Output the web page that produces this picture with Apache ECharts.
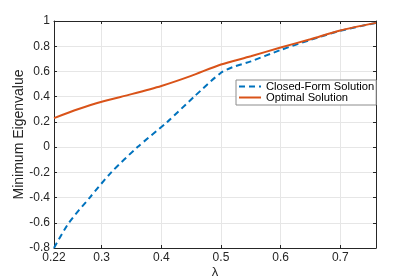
<!DOCTYPE html>
<html><head><meta charset="utf-8">
<script src="https://cdn.jsdelivr.net/npm/echarts@6/dist/echarts.min.js"></script>
<style>html,body{margin:0;padding:0;background:#fff}#c{width:415px;height:279px}</style>
</head><body><div id="c"></div>
<script>
const xTicks = [0.22, 0.3, 0.4, 0.5, 0.6, 0.7];
const closedX = [0.22, 0.245, 0.28, 0.316, 0.36, 0.41, 0.455, 0.50, 0.52, 0.55, 0.60, 0.65, 0.70, 0.76];
const closedY = [-0.8, -0.6, -0.4, -0.2, 0.0, 0.2, 0.4, 0.59, 0.635, 0.68, 0.77, 0.85, 0.922, 0.985];
const optX = [0.22, 0.26, 0.30, 0.35, 0.40, 0.45, 0.50, 0.55, 0.60, 0.65, 0.70, 0.76];
const optY = [0.23, 0.30, 0.36, 0.42, 0.485, 0.565, 0.655, 0.72, 0.79, 0.855, 0.925, 0.985];
const seriesNames = ['Closed-Form Solution', 'Optimal Solution'];

const font = 'Liberation Sans, Arial, Helvetica, sans-serif';
const axisColor = '#262626';
const chart = echarts.init(document.getElementById('c'), null, {renderer: 'canvas'});
const zip = (xs, ys) => xs.map((x, i) => [x, ys[i]]);
chart.setOption({
  animation: false,
  backgroundColor: '#fff',
  grid: {left: 54, right: 39, top: 21, bottom: 31, containLabel: false, outerBoundsMode: 'none'},
  legend: {
    orient: 'vertical', left: 236, top: 80,
    padding: [1, 2, 2, 2], itemGap: 0, itemWidth: 22, itemHeight: 8, itemTextGap: 1,
    itemStyle: {opacity: 0},
    backgroundColor: '#fff', borderColor: '#8c8c8c', borderWidth: 1,
    textStyle: {fontFamily: font, fontSize: 11.2, color: '#000', lineHeight: 11},
    data: seriesNames
  },
  xAxis: [{
    type: 'value', min: 0.22, max: 0.76, position: 'bottom',
    name: 'λ', nameLocation: 'middle', nameGap: 18, nameMoveOverlap: false,
    nameTextStyle: {fontFamily: font, fontSize: 13, color: axisColor},
    axisLine: {show: true, onZero: false, lineStyle: {color: axisColor, width: 1}},
    axisTick: {show: true, inside: true, length: 3, customValues: xTicks, lineStyle: {color: axisColor}},
    axisLabel: {customValues: xTicks, fontFamily: font, fontSize: 12, color: axisColor, margin: 4,
      formatter: v => String(Number(v.toFixed(2)))},
    splitLine: {show: true, lineStyle: {color: '#e6e6e6', width: 1}}
  }, {
    type: 'value', min: 0.22, max: 0.76, position: 'top',
    axisLine: {show: true, onZero: false, lineStyle: {color: axisColor, width: 1}},
    axisTick: {show: true, inside: true, length: 3, customValues: xTicks, lineStyle: {color: axisColor}},
    axisLabel: {show: false}, splitLine: {show: false}
  }],
  yAxis: [{
    type: 'value', min: -0.8, max: 1, interval: 0.2, position: 'left',
    name: 'Minimum Eigenvalue', nameLocation: 'middle', nameGap: 28, nameRotate: 90, nameMoveOverlap: false,
    nameTextStyle: {fontFamily: font, fontSize: 14, color: axisColor},
    axisLine: {show: true, onZero: false, lineStyle: {color: axisColor, width: 1}},
    axisTick: {show: true, inside: true, length: 3, lineStyle: {color: axisColor}},
    axisLabel: {fontFamily: font, fontSize: 12, color: axisColor, margin: 4,
      formatter: v => String(Number(v.toFixed(1)))},
    splitLine: {show: true, lineStyle: {color: '#e6e6e6', width: 1}}
  }, {
    type: 'value', min: -0.8, max: 1, interval: 0.2, position: 'right',
    axisLine: {show: true, onZero: false, lineStyle: {color: axisColor, width: 1}},
    axisTick: {show: true, inside: true, length: 3, lineStyle: {color: axisColor}},
    axisLabel: {show: false}, splitLine: {show: false}
  }],
  series: [{
    name: seriesNames[0], type: 'line', symbol: 'none', smooth: 0.25,
    data: zip(closedX, closedY), z: 3,
    lineStyle: {color: '#0072BD', width: 2, type: [6, 4]}, itemStyle: {color: '#0072BD'}
  }, {
    name: seriesNames[1], type: 'line', symbol: 'none', smooth: 0.25,
    data: zip(optX, optY), z: 4,
    lineStyle: {color: '#D95319', width: 2}, itemStyle: {color: '#D95319'}
  }]
});
</script></body></html>
